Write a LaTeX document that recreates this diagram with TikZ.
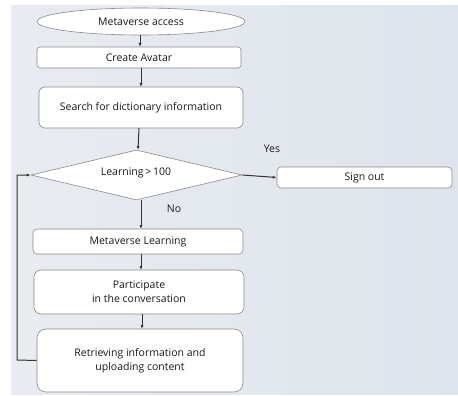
\documentclass[tikz,border=0pt]{standalone}
\usepackage{fontspec}
\setmainfont{Open Sans}
\usetikzlibrary{shapes.geometric,arrows.meta}
\definecolor{bgA}{HTML}{E8ECF1}
\definecolor{bgB}{HTML}{DFE4EC}
\definecolor{edge}{HTML}{8A8A8A}
\tikzset{
  every node/.style={font=\fontsize{10.5}{14}\selectfont, text=black!90},
  box/.style={draw=edge, fill=white, rounded corners=#1, inner sep=0pt, line width=0.6pt},
  box/.default=4pt,
  conn/.style={-{Latex[length=4pt,width=3pt]}, line width=1pt, draw=black!80},
}
\begin{document}
\begin{tikzpicture}[x=1pt,y=-1pt]
\useasboundingbox (0,0) rectangle (458,396);
\shade[left color=bgA, right color=bgB] (11,6) rectangle (458,394);
% nodes
\node[ellipse, draw=edge, fill=white, line width=0.6pt, minimum width=208pt, minimum height=27pt, inner sep=0pt] (start) at (141,21.5) {Metaverse access};
\node[box=3pt, minimum width=204pt, minimum height=21pt] (avatar) at (139,57.5) {Create Avatar};
\node[box=6pt, minimum width=204pt, minimum height=41pt] (search) at (141,107.5) {Search for dictionary information};
\node[diamond, draw=edge, fill=white, line width=0.6pt, aspect=4.2, minimum width=211pt, minimum height=50pt, inner sep=0pt] (dec) at (136.5,175) {};
\node at (136,173) {Learning\,\textgreater\,100};
\node[box=4pt, minimum width=175pt, minimum height=21pt] (sign) at (364.5,177.5) {Sign out};
\node (yes) at (272,149) {Yes};
\node (no) at (174,209) {No};
\node[box=4pt, minimum width=210pt, minimum height=25pt] (ml) at (138,241.5) {Metaverse Learning};
\node[box=7pt, minimum width=210pt, minimum height=44pt, align=center] (part) at (139,292) {Participate\\in the conversation};
\node[box=9pt, minimum width=206pt, minimum height=63pt, align=center] (retr) at (140,360.5) {Retrieving information and\\uploading content};
% connectors
\draw[conn] (start.south -| 140,0) -- (140,47);
\draw[conn] (141,68) -- (141,87);
\draw[conn] (139,128) -- (138,150);
\draw[conn] (141,200) -- (141,229);
\draw[conn] (141,254) -- (141,270);
\draw[conn] (142,314) -- (142,329);
\draw[conn] (dec.east) -- (sign.west);
\draw[conn] (retr.west) -- (17,360) -- (17,175) -- (dec.west);
\end{tikzpicture}
\end{document}
